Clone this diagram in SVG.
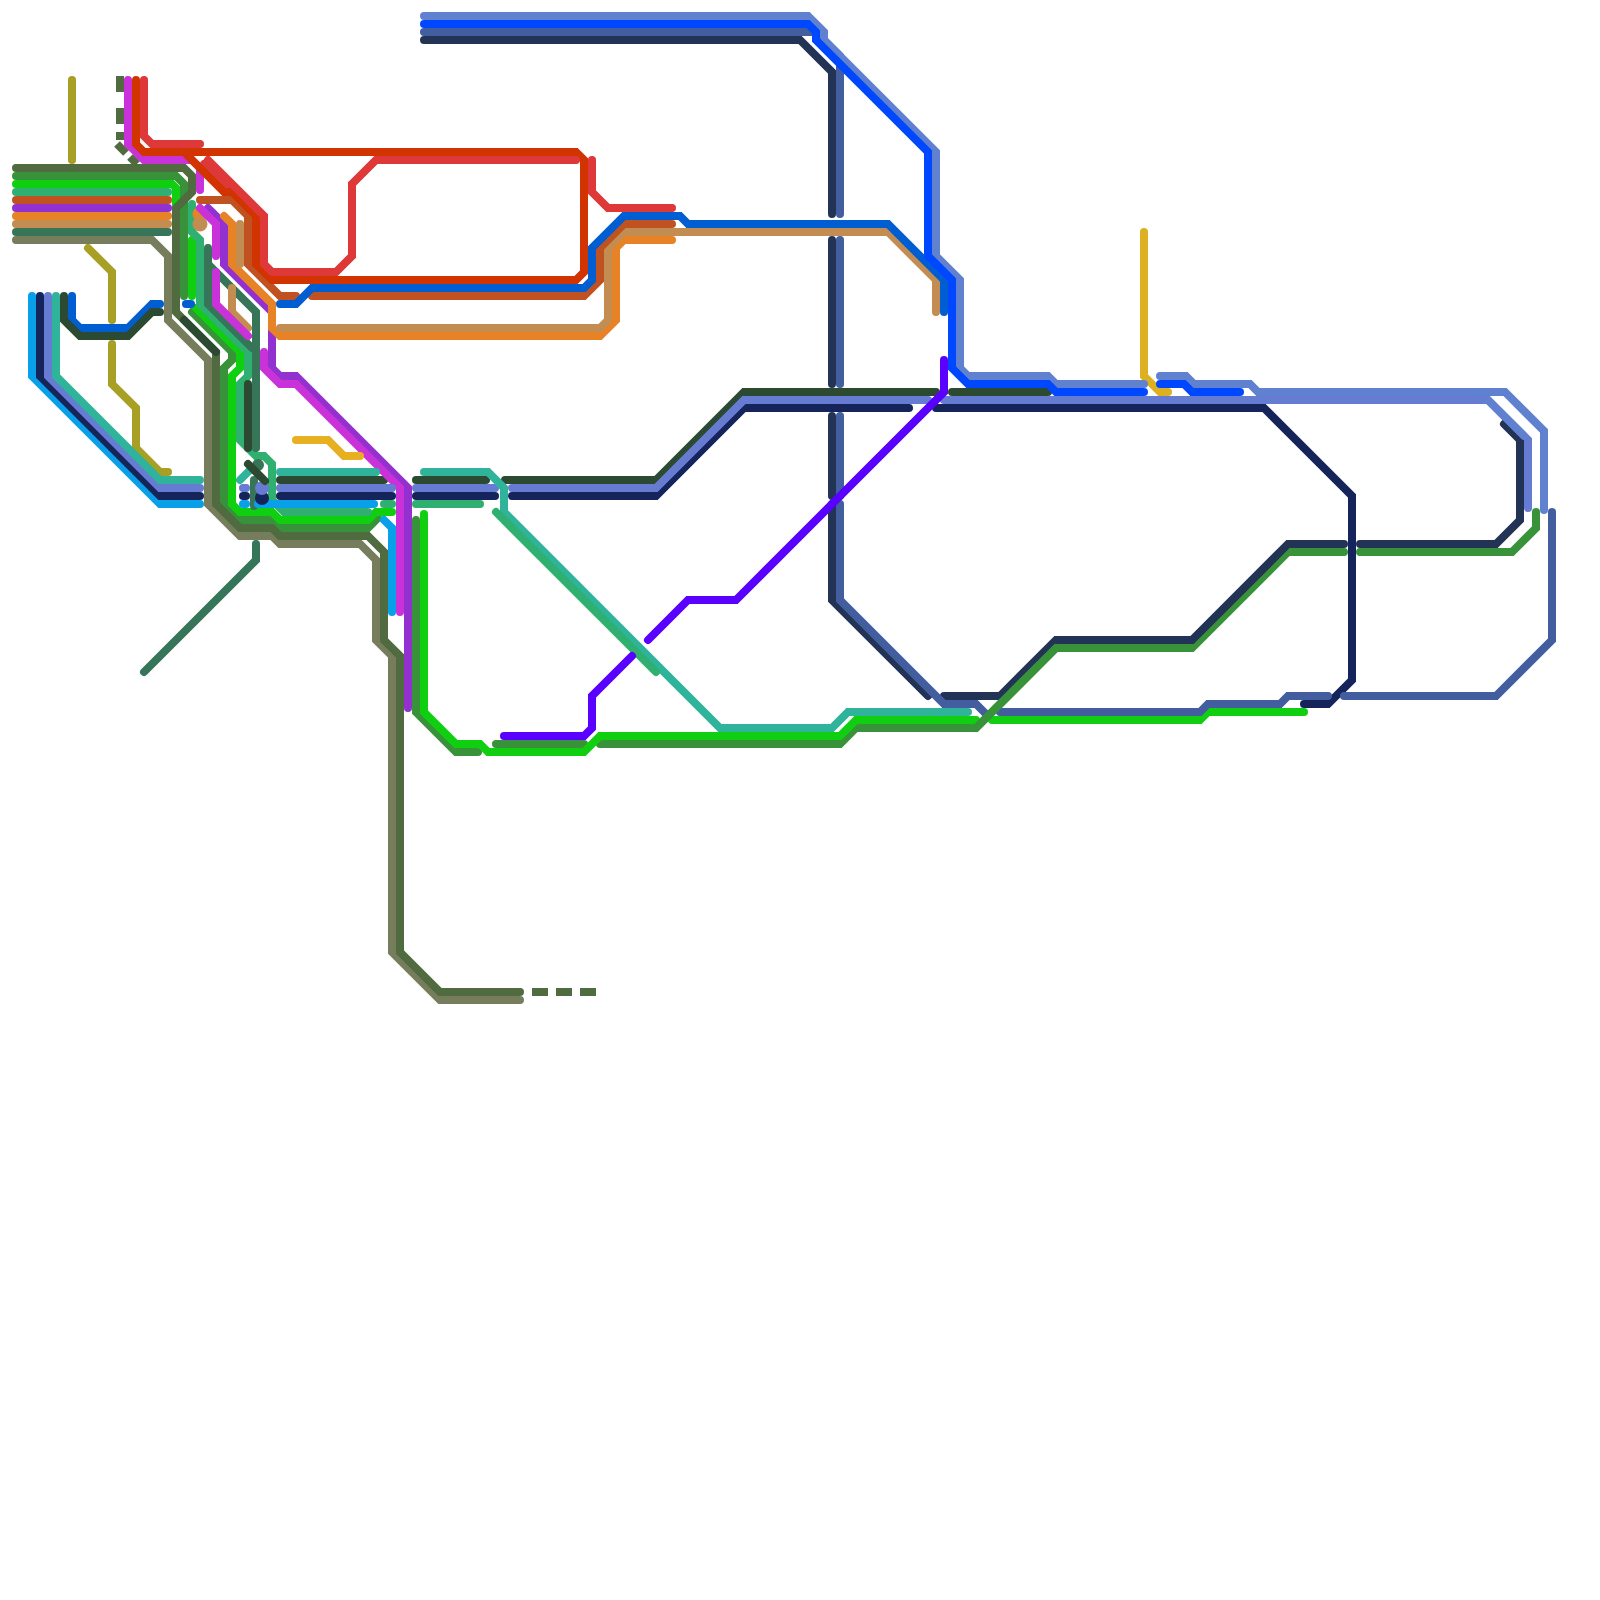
<svg xmlns="http://www.w3.org/2000/svg" width="1600" height="1600" viewBox="0 0 1600 1600">
<style>
path{fill:none;stroke-width:8;stroke-linecap:round;stroke-linejoin:miter}
.butt{stroke-linecap:butt}
.green{stroke:#38923a}.lime{stroke:#10cf10}.sea{stroke:#2fb070}.dteal{stroke:#367558}.gray{stroke:#757d5c}.moss{stroke:#4f6b3f}.purple{stroke:#9230d0}.orange{stroke:#e88226}.tan{stroke:#c38d52}.rust{stroke:#c05222}.blue{stroke:#005ed2}.magenta{stroke:#c832d8}.redor{stroke:#d13400}.red{stroke:#de3838}.cyan{stroke:#08a0e8}.navy{stroke:#16245c}.peri{stroke:#667bd2}.teal{stroke:#2fb39a}.dgreen{stroke:#2c4a32}.olive{stroke:#a8a024}.gold{stroke:#e6b020}.gold2{stroke:#dcb020}.royal{stroke:#0048ff}.steel{stroke:#6080d0}.slate{stroke:#425e9e}.dnavy{stroke:#223355}.violet{stroke:#5a00ff}
</style>
<rect width="1600" height="1600" fill="#fff"/>
<g id="connectors">
<g id="line-olive"><path class="olive" d="M72,80V160"/><path class="olive" d="M88,248L112,272V320"/><path class="olive" d="M112,344V384L136,408V448L160,472H168"/></g>
<g id="line-green"><path class="green" d="M16,176H176L184,184V296"/><path class="green" d="M192,312L232,352V360L224,368V504L240,520H272L280,528H368L378,518"/><path class="green" d="M416,520V712L456,752H478"/><path class="green" d="M496,744H584"/><path class="green" d="M600,744H840L856,728H976L1056,648H1192L1288,552H1344"/><path class="green" d="M1360,552H1512L1536,528V512"/></g>
<g id="line-lime"><path class="lime" d="M16,184H172L176,188V204"/><path class="lime" d="M192,240V296"/><path class="lime" d="M196,308L240,352V368L232,376V504L240,512H272L280,520H368L376,512H392"/><path class="lime" d="M424,514V712L456,744H480L488,752H584L600,736H840L856,720H976"/><path class="lime" d="M992,720H1200L1208,712H1304"/></g>
<g id="line-sea"><path class="sea" d="M16,192H168"/><path class="sea" d="M192,204V232L200,240V304L248,352V376L240,384V440L256,456H264L272,464V500L284,512H368"/><path class="sea" d="M384,504H392"/><path class="sea" d="M416,504H480"/></g>
<g id="line-dteal"><path class="dteal" d="M16,232H168"/><path class="dteal" d="M208,248V264L256,312V448"/><path class="dteal" d="M208,264V304L252,348"/><circle cx="258" cy="465" r="6" fill="#367558"/><path class="dteal" d="M254,480V506"/><path class="dteal" d="M256,544V560L144,672"/></g>
<g id="line-gray"><path class="gray" d="M16,240H152L168,256V320L208,360V504L240,536H272L280,544H360L376,560V640L392,656V952L440,1000H520"/></g>
<g id="line-moss"><path class="moss" d="M16,168H184L192,176V192L176,208V312L216,352V504L240,528H272L280,536H368L384,552V640L400,656V952L440,992H520"/><path class="moss butt" d="M532,992H548M556,992H572M580,992H596"/><path class="moss butt" d="M120,76V92M120,108V124M120,132V140M117,144L126,153M130,157L137,164"/></g>
<g id="line-purple"><path class="purple" d="M16,208H168"/><path class="purple" d="M208,208L224,224V264L272,312V368L280,376H296L408,488V708"/></g>
<g id="line-orange"><path class="orange" d="M16,216H168"/><circle cx="200" cy="214" r="7.5" fill="#e88226"/><path class="orange" d="M224,216L232,224V264L272,304V328L280,336H600L616,320V248L624,240H672"/></g>
<g id="line-tan"><path class="tan" d="M16,224H168"/><circle cx="200" cy="224" r="7.5" fill="#c38d52"/><path class="tan" d="M240,224V264"/><path class="tan" d="M232,288V312L248,328"/><path class="tan" d="M280,328H600L608,320V248L624,232H888L936,280V312"/></g>
<g id="line-rust"><path class="rust" d="M16,200H168"/><path class="rust" d="M200,200H232L248,216V264L280,296H296"/><path class="rust" d="M312,296H584L600,280V248L624,224H672"/></g>
<g id="line-blue"><path class="blue" d="M72,296V320L80,328H128L152,304H160"/><path class="blue" d="M186,304H191"/><path class="blue" d="M280,304H296L312,288H584L592,280V248L624,216H680L688,224H888L944,280V312"/></g>
<g id="line-dgreen"><path class="dgreen" d="M64,296V320L80,336H128L152,312H160"/><path class="dgreen" d="M184,320L216,352"/><path class="dgreen" d="M248,384V448"/><path class="dgreen" d="M280,480H384"/><path class="dgreen" d="M416,480H486"/><path class="dgreen" d="M505,480H656L744,392H936"/><path class="dgreen" d="M952,392H1048"/></g>
<g id="line-magenta"><path class="magenta" d="M128,80V144L144,160H192L200,168V190"/><path class="magenta" d="M200,208L216,224V256"/><path class="magenta" d="M216,272V304L248,336"/><path class="magenta" d="M264,352V368L280,384H296L400,488V612"/></g>
<g id="line-red2"><path class="red" d="M204,164L236,196"/></g>
<g id="line-redor"><path class="redor" d="M136,80V144L144,152H576L584,160V272L576,280H272L256,264V216L232,192H224L184,152"/></g>
<g id="line-red"><path class="red" d="M144,80V136L152,144H200"/><path class="red" d="M208,160L264,216V264L272,272H336L352,256V184L376,160H576"/><path class="red" d="M592,160V192L608,208H672"/></g>
<g id="line-cyan"><path class="cyan" d="M32,296V376L160,504H200"/><path class="cyan" d="M243,504H246"/><path class="cyan" d="M258,504H374"/><path class="cyan" d="M384,520L392,528V612"/></g>
<g id="line-navy"><path class="navy" d="M40,296V376L160,496H200"/><path class="navy" d="M243,496H246"/><circle cx="262" cy="498" r="7" fill="#16245c"/><path class="navy" d="M280,496H392"/><path class="navy" d="M416,496H495"/><path class="navy" d="M512,496H656L744,408H909"/><path class="navy" d="M936,408H1264L1352,496V680L1328,704H1304"/></g>
<g id="line-peri"><path class="peri" d="M48,296V376L160,488H200"/><path class="peri" d="M243,488H246"/><circle cx="262" cy="488" r="7" fill="#667bd2"/><path class="peri" d="M280,488H392"/><path class="peri" d="M416,488H495"/><path class="peri" d="M512,488H656L744,400H928"/><path class="peri" d="M944,400H1488L1528,440V508"/></g>
<g id="line-teal"><path class="teal" d="M56,296V376L160,480H200"/><path class="teal" d="M240,480L250,470"/><path class="teal" d="M280,472H376"/><path class="teal" d="M424,472H488L504,488V512L720,728H832L848,712H968"/></g>
<g id="line-dgreen2"><path class="dgreen" d="M248,464L265,481"/></g>
<g id="line-sea2"><path class="sea" d="M496,512L656,672"/></g>
<g id="line-gold"><path class="gold" d="M296,440H328L344,456H360"/><path class="gold2" d="M1144,232V376L1160,392H1168"/></g>
<g id="line-dnavy"><path class="dnavy" d="M424,40H800L832,72V214"/><path class="dnavy" d="M832,240V384"/><path class="dnavy" d="M832,416V496"/><path class="dnavy" d="M832,504V600L928,696"/><path class="dnavy" d="M944,696H1000L1056,640H1192L1288,544H1344"/><path class="dnavy" d="M1360,544H1496L1520,520V440L1504,424"/></g>
<g id="line-slate"><path class="slate" d="M424,32H816L840,56V214"/><path class="slate" d="M840,240V384"/><path class="slate" d="M840,416V496"/><path class="slate" d="M840,504V600L944,704H976L988,716"/><path class="slate" d="M1000,712H1200L1208,704H1280L1288,696H1328"/><path class="slate" d="M1344,696H1496L1552,640V512"/></g>
<g id="line-green-top"><path class="green" d="M976,728L1056,648"/></g>
<g id="line-steel"><path class="steel" d="M424,16H808L824,32V40L936,152V256L960,280V368L968,376H1048L1056,384H1144"/><path class="steel" d="M1160,376H1186L1194,384H1250L1258,392H1505L1544,431V510"/><path class="steel" d="M1488,400L1524,436"/></g>
<g id="line-royal"><path class="royal" d="M424,24H808L816,32V40L928,152V256L952,280V368L968,384H1048L1056,392H1144"/><path class="royal" d="M1160,384H1184L1192,392H1240"/></g>
<g id="line-violet"><path class="violet" d="M504,736H584L592,728V696L632,656"/><path class="violet" d="M648,640L688,600H736L944,392V360"/></g>
</g>
</svg>
